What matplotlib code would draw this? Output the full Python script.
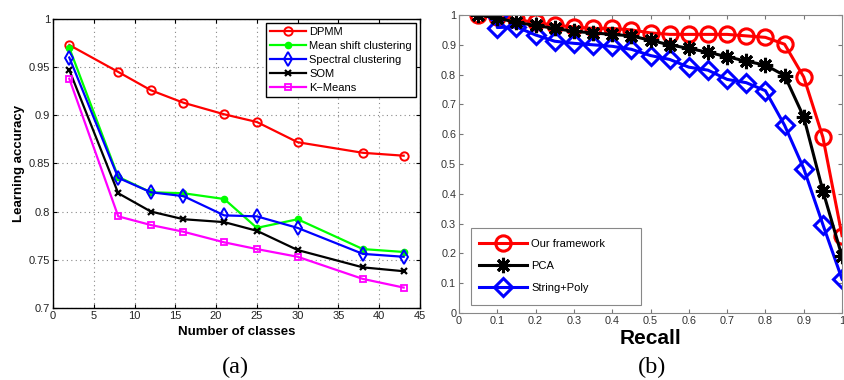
import matplotlib
matplotlib.use("Agg")
import matplotlib.pyplot as plt
from matplotlib.patches import Rectangle
import numpy as np

plt.rcParams['font.family'] = ['Liberation Sans', 'DejaVu Sans']

# ---- Panel (a) data ----
classes = [2, 8, 12, 16, 21, 25, 30, 38, 43]
dpmm = [0.973, 0.945, 0.926, 0.913, 0.901, 0.893, 0.872, 0.861, 0.858]
mean_shift = [0.970, 0.836, 0.820, 0.819, 0.813, 0.783, 0.792, 0.761, 0.758]
spectral = [0.960, 0.835, 0.820, 0.816, 0.796, 0.795, 0.783, 0.756, 0.753]
som = [0.947, 0.819, 0.800, 0.792, 0.789, 0.780, 0.760, 0.742, 0.738]
kmeans = [0.938, 0.795, 0.786, 0.779, 0.768, 0.761, 0.753, 0.730, 0.721]
labels_a = ["DPMM", "Mean shift clustering", "Spectral clustering", "SOM", "K\u2212Means"]

# ---- Panel (b) data ----
recall = [0.05, 0.10, 0.15, 0.20, 0.25, 0.30, 0.35, 0.40, 0.45, 0.50,
          0.55, 0.60, 0.65, 0.70, 0.75, 0.80, 0.85, 0.90, 0.95, 1.00]
ours = [1.000, 0.993, 0.985, 0.975, 0.966, 0.960, 0.955, 0.955, 0.950, 0.940,
        0.935, 0.935, 0.935, 0.935, 0.930, 0.925, 0.902, 0.792, 0.590, 0.260]
pca = [1.000, 0.990, 0.975, 0.965, 0.955, 0.945, 0.940, 0.935, 0.930, 0.915,
       0.900, 0.888, 0.875, 0.860, 0.845, 0.832, 0.797, 0.658, 0.410, 0.190]
recall_sp = [0.05, 0.10, 0.10, 0.15, 0.20, 0.25, 0.30, 0.35, 0.40, 0.45, 0.50,
             0.55, 0.60, 0.65, 0.70, 0.75, 0.80, 0.85, 0.90, 0.95, 1.00]
string_poly = [1.000, 0.998, 0.958, 0.960, 0.933, 0.912, 0.905, 0.900, 0.895, 0.885, 0.864,
               0.851, 0.825, 0.815, 0.784, 0.773, 0.746, 0.630, 0.485, 0.297, 0.114]
labels_b = ["Our framework", "PCA", "String+Poly"]

fig = plt.figure(figsize=(8.45, 3.8), dpi=100)

# ---------------- Panel (a) ----------------
ax1 = fig.add_axes([0.0627, 0.19, 0.4343, 0.76])
ax1.plot(classes, dpmm, color=(1, 0, 0), lw=1.6, marker='o', ms=6, mfc='none', mew=1.4, label=labels_a[0])
ax1.plot(classes, mean_shift, color=(0, 1, 0), lw=1.6, marker='o', ms=4.5, mfc=(0, 1, 0), mew=1.0, label=labels_a[1])
ax1.plot(classes, spectral, color=(0, 0, 1), lw=1.6, marker='d', ms=7, mfc='none', mew=1.4, label=labels_a[2])
ax1.plot(classes, som, color='black', lw=1.6, marker='x', ms=4, mew=1.6, label=labels_a[3])
ax1.plot(classes, kmeans, color=(1, 0, 1), lw=1.6, marker='s', ms=5, mfc='none', mew=1.3, label=labels_a[4])
ax1.set_xlim(0, 45)
ax1.set_ylim(0.7, 1.0)
ax1.set_xticks(np.arange(0, 46, 5))
ax1.set_yticks([0.7, 0.75, 0.8, 0.85, 0.9, 0.95, 1.0])
ax1.set_yticklabels(["0.7", "0.75", "0.8", "0.85", "0.9", "0.95", "1"])
ax1.grid(True, linestyle=(0, (1, 3)), color='#888888', lw=0.8)
ax1.tick_params(labelsize=8, direction='in', length=3, top=True, right=True,
                colors='black', labelcolor='#222222', pad=2)
for s in ax1.spines.values():
    s.set_linewidth(1.0)
ax1.set_xlabel("Number of classes", fontsize=9.5, fontweight='bold', labelpad=4)
ax1.set_ylabel("Learning accuracy", fontsize=9.5, fontweight='bold', labelpad=3)
leg1 = ax1.legend(loc='upper right', fontsize=8, frameon=True, fancybox=False,
                  edgecolor='black', framealpha=1, borderpad=0.35, labelspacing=0.36,
                  handlelength=3.2, handletextpad=0.3, borderaxespad=0.4)
leg1.get_frame().set_linewidth(1.0)

# ---------------- Panel (b) ----------------
ax2 = fig.add_axes([0.5432, 0.176, 0.4533, 0.7845])
ax2.plot(recall, ours, color=(1, 0, 0), lw=2.2, marker='o', ms=11, mfc='none', mew=2.2, label=labels_b[0])
ax2.plot(recall_sp, string_poly, color=(0, 0, 1), lw=2.2, marker='D', ms=9, mfc='none', mew=2.2,
         markevery=list(range(1, len(recall_sp))), label=labels_b[2])
ax2.plot(recall, pca, color='black', lw=2.2, marker=(8, 2, 0), ms=11, mew=2.2, label=labels_b[1])
ax2.set_xlim(0, 1)
ax2.set_ylim(0, 1)
ax2.set_xticks(np.arange(0, 1.01, 0.1))
ax2.set_xticklabels(["0", "0.1", "0.2", "0.3", "0.4", "0.5", "0.6", "0.7", "0.8", "0.9", "1"])
ax2.set_yticks(np.arange(0, 1.01, 0.1))
ax2.set_yticklabels(["0", "0.1", "0.2", "0.3", "0.4", "0.5", "0.6", "0.7", "0.8", "0.9", "1"])
ax2.tick_params(labelsize=7.8, direction='in', length=3, top=True, right=True,
                colors='#777777', labelcolor='#333333', pad=2)
for s in ax2.spines.values():
    s.set_color('#888888')
    s.set_linewidth(0.8)
ax2.set_xlabel("Recall", fontsize=15, fontweight='bold', labelpad=2)

# legend box (MATLAB style, wider than its contents)
ax2.add_patch(Rectangle((0.031, 0.027), 0.444, 0.258, transform=ax2.transAxes,
                        facecolor='white', edgecolor='#888888', lw=0.8, zorder=4))
h, l = ax2.get_legend_handles_labels()
order = [0, 2, 1]
leg2 = ax2.legend([h[i] for i in order], [l[i] for i in order], loc='center left',
                  bbox_to_anchor=(0.052, 0.158), fontsize=8, frameon=False,
                  borderpad=0.0, labelspacing=1.1, handlelength=4.3, handletextpad=0.4,
                  borderaxespad=0.0)
leg2.set_zorder(5)

# captions
fig.text(235 / 845, 1 - 367 / 380, "(a)", ha='center', va='center', fontsize=17.5,
         family=['Liberation Serif', 'DejaVu Serif'])
fig.text(652 / 845, 1 - 367 / 380, "(b)", ha='center', va='center', fontsize=17.5,
         family=['Liberation Serif', 'DejaVu Serif'])

fig.savefig("out.png", dpi=100)
